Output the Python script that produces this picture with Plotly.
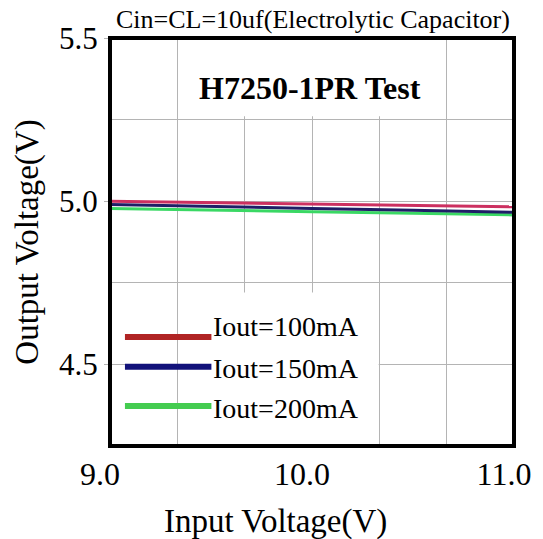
import plotly.graph_objects as go

# ---- data ----
vin = [9.0, 9.5, 10.0, 10.5, 11.0]
vout_100mA = [5.000, 4.996, 4.992, 4.988, 4.983]
vout_150mA = [4.990, 4.985, 4.978, 4.972, 4.966]
vout_200mA = [4.978, 4.974, 4.968, 4.963, 4.958]
series_names = ["Iout=100mA", "Iout=150mA", "Iout=200mA"]
x_ticks = [9.0, 10.0, 11.0]
x_ticktext = ["9.0", "10.0", "11.0"]
y_ticks = [4.5, 5.0, 5.5]
y_ticktext = ["4.5", "5.0", "5.5"]

FONT = "Liberation Serif, Times New Roman, serif"
curve_colors = ["#cc3060", "#1e1e66", "#3ad864"]
legend_colors = ["#b02424", "#12127a", "#44cc50"]

fig = go.Figure()
# draw green first, red on top
for ys, col, name in [(vout_200mA, curve_colors[2], series_names[2]),
                      (vout_150mA, curve_colors[1], series_names[1]),
                      (vout_100mA, curve_colors[0], series_names[0])]:
    fig.add_trace(go.Scatter(x=vin, y=ys, mode="lines", name=name,
                             line=dict(color=col, width=3), showlegend=False))

grid_col = "#b4b4b4"
fig.update_layout(
    width=543, height=539,
    margin=dict(l=110, r=27, t=38, b=93),
    paper_bgcolor="white", plot_bgcolor="white",
    font=dict(family=FONT, color="black"),
    xaxis=dict(range=[9.0, 11.0], tickvals=x_ticks, ticktext=x_ticktext,
               showgrid=True, gridcolor=grid_col, gridwidth=1,
               minor=dict(dtick=1/3, tick0=9.0, showgrid=True, gridcolor=grid_col, gridwidth=1),
               ticks="", tickfont=dict(size=32, family=FONT), ticklabelshift=-10,
               ticklabelstandoff=6,
               zeroline=False, showline=False),
    yaxis=dict(range=[4.25, 5.5], tickvals=y_ticks, ticktext=y_ticktext,
               showgrid=True, gridcolor=grid_col, gridwidth=1,
               minor=dict(dtick=0.25, tick0=4.25, showgrid=True, gridcolor=grid_col, gridwidth=1),
               ticks="outside", ticklen=5, tickcolor=grid_col,
               tickfont=dict(size=31, family=FONT),
               zeroline=False, showline=False,
               title=dict(text="Output Voltage(V)", font=dict(size=33, family=FONT), standoff=10)),
)

shapes = []
# white box behind the inner title (covers gridlines)
shapes.append(dict(type="rect", xref="x", yref="y", x0=9.34, x1=10.66, y0=5.26, y1=5.5,
                   fillcolor="white", line=dict(width=0), layer="between"))
# white box behind legend
shapes.append(dict(type="rect", xref="x", yref="y", x0=9.34, x1=10.33, y0=4.25, y1=4.72,
                   fillcolor="white", line=dict(width=0), layer="between"))
# legend samples
leg_y = [0.267, 0.194, 0.098]
for yy, col in zip(leg_y, legend_colors):
    shapes.append(dict(type="line", xref="paper", yref="paper", x0=0.037, x1=0.251, y0=yy, y1=yy,
                       line=dict(color=col, width=6), layer="above"))
# thick frame
shapes.append(dict(type="rect", xref="paper", yref="paper", x0=0, x1=1, y0=0, y1=1,
                   line=dict(color="black", width=4), fillcolor="rgba(0,0,0,0)", layer="above"))
fig.update_layout(shapes=shapes)

annots = []
annots.append(dict(text="Cin=CL=10uf(Electrolytic Capacitor)", xref="paper", yref="paper",
                   x=0.502, y=1, yanchor="bottom", xanchor="center", yshift=2, showarrow=False,
                   font=dict(size=26, family=FONT)))
annots.append(dict(text="<b>H7250-1PR Test</b>", xref="paper", yref="paper",
                   x=0.495, y=0.877, xanchor="center", yanchor="middle", showarrow=False,
                   font=dict(size=32, family=FONT)))
annots.append(dict(text="Input Voltage(V)", xref="paper", yref="paper",
                   x=0.41, y=-0.184, xanchor="center", yanchor="middle", showarrow=False,
                   font=dict(size=33, family=FONT)))
leg_text_y = [0.292, 0.191, 0.093]
for yy, name in zip(leg_text_y, series_names):
    annots.append(dict(text=name, xref="paper", yref="paper", x=0.251, y=yy,
                       xanchor="left", yanchor="middle", showarrow=False,
                       font=dict(size=28, family=FONT)))
fig.update_layout(annotations=annots)

fig.write_html("out.html", config={"displayModeBar": False},
               post_script="document.body.style.margin='0';document.body.style.overflow='hidden';")
